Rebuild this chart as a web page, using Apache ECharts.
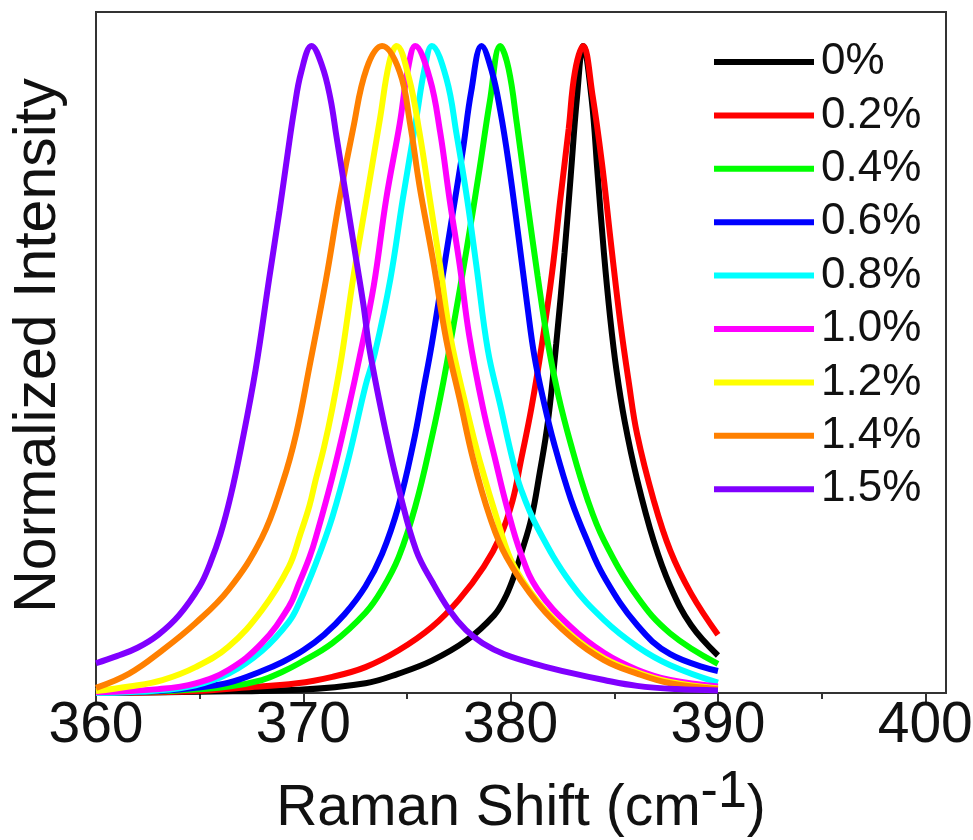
<!DOCTYPE html>
<html>
<head>
<meta charset="utf-8">
<script src="https://cdn.jsdelivr.net/npm/echarts@6/dist/echarts.min.js"></script>
<style>
html,body{margin:0;padding:0;background:#fff;}
#chart{width:973px;height:840px;}
</style>
</head>
<body>
<div id="chart"></div>
<script>
const seriesNames = ['0%', '0.2%', '0.4%', '0.6%', '0.8%', '1.0%', '1.2%', '1.4%', '1.5%'];
const seriesColors = ['#000000', '#ff0000', '#00ff00', '#0000ff', '#00ffff', '#ff00ff', '#ffff00', '#ff8000', '#8000ff'];
const majorTicks = [360, 370, 380, 390, 400];
const minorTicks = [365, 375, 385, 395];

const s0 = [[360,0],[365,0.002],[369.8,0.005],[373,0.015],[374.6,0.03],[376.2,0.05],[377.9,0.082],[379.2,0.12],[379.7,0.145],[380.1,0.175],[380.5,0.215],[381,0.27],[381.4,0.34],[381.8,0.42],[382.2,0.54],[382.6,0.68],[382.9,0.8],[383.2,0.92],[383.5,1.0],[383.9,0.92],[384.2,0.8],[384.5,0.68],[384.8,0.58],[385.1,0.5],[385.5,0.42],[386.1,0.33],[386.9,0.235],[387.7,0.165],[388.7,0.105],[390,0.058]];
const s1 = [[360,0],[363,0.001],[364.8,0.003],[367,0.008],[369.7,0.015],[371.4,0.025],[373,0.04],[374.6,0.066],[376.2,0.102],[377.5,0.144],[378.7,0.195],[379.5,0.242],[380.1,0.298],[380.5,0.36],[381,0.44],[381.5,0.537],[382,0.65],[382.4,0.764],[382.8,0.872],[383.1,0.96],[383.5,1.0],[383.95,0.924],[384.4,0.82],[384.85,0.692],[385.3,0.57],[385.7,0.48],[386.1,0.4],[386.9,0.298],[387.7,0.22],[388.7,0.154],[390,0.09]];
const s2 = [[360,0],[364,0.004],[366.4,0.01],[368,0.02],[369,0.033],[369.8,0.046],[371.4,0.077],[373,0.124],[373.8,0.16],[374.6,0.21],[375.4,0.288],[376.2,0.395],[376.75,0.48],[377.2,0.56],[377.9,0.69],[378.5,0.81],[379,0.915],[379.5,1.0],[379.9,0.965],[380.3,0.88],[380.8,0.76],[381.3,0.645],[381.8,0.54],[382.3,0.46],[382.9,0.385],[383.7,0.3],[384.5,0.236],[386.1,0.149],[387.7,0.092],[390,0.045]];
const s3 = [[360,0],[363,0.003],[364.8,0.008],[366.4,0.016],[368,0.034],[369,0.048],[370,0.066],[371,0.09],[372,0.122],[373,0.165],[373.8,0.215],[374.6,0.29],[375.3,0.385],[375.8,0.47],[376.2,0.54],[376.7,0.64],[377.2,0.74],[377.7,0.84],[378.1,0.93],[378.6,1.0],[379.1,0.96],[379.5,0.9],[379.9,0.82],[380.4,0.7],[380.8,0.6],[381.15,0.52],[381.6,0.45],[382.1,0.385],[382.9,0.3],[383.7,0.235],[384.5,0.18],[386.1,0.105],[387.7,0.06],[390,0.034]];
const s4 = [[360,0],[363,0.004],[364.8,0.012],[366.4,0.03],[368,0.065],[369.3,0.11],[369.8,0.139],[370.6,0.2],[371.4,0.272],[372.2,0.365],[373,0.475],[373.45,0.525],[374.2,0.64],[374.8,0.764],[375.45,0.888],[375.85,0.965],[376.2,1.0],[376.9,0.95],[377.4,0.862],[377.9,0.764],[378.35,0.66],[378.9,0.53],[379.5,0.445],[380.1,0.36],[380.5,0.315],[381.3,0.255],[382.9,0.17],[384.5,0.113],[386.1,0.072],[387.7,0.043],[390,0.016]];
const s5 = [[360,0.001],[363,0.006],[364.8,0.015],[366.4,0.036],[368,0.077],[369.3,0.133],[369.8,0.17],[370.3,0.21],[370.6,0.24],[371.4,0.334],[372.2,0.443],[372.7,0.517],[373.4,0.63],[374,0.764],[374.65,0.88],[375.05,0.965],[375.4,1.0],[376.1,0.95],[376.6,0.867],[377.05,0.764],[377.55,0.66],[378,0.553],[378.65,0.443],[379.3,0.355],[379.8,0.29],[380.5,0.215],[381.3,0.16],[382.9,0.102],[384.5,0.062],[386.1,0.036],[387.7,0.02],[390,0.01]];
const s6 = [[360,0.003],[361.6,0.01],[363.2,0.02],[364.8,0.04],[366.4,0.072],[368,0.128],[369.3,0.195],[369.85,0.245],[370.3,0.29],[370.6,0.33],[371,0.38],[371.4,0.44],[371.85,0.52],[372.4,0.64],[373.05,0.764],[373.7,0.888],[374.15,0.975],[374.5,1.0],[375.1,0.95],[375.6,0.867],[376.1,0.764],[376.6,0.66],[377.1,0.55],[377.85,0.443],[378.5,0.36],[379.45,0.258],[380.1,0.2],[381.3,0.142],[382.9,0.09],[384.5,0.054],[386.1,0.032],[387.7,0.017],[390,0.007]];
const s7 = [[360,0.008],[361.6,0.03],[363.2,0.066],[364.8,0.108],[366.4,0.16],[368,0.24],[369,0.325],[369.65,0.4],[370.3,0.505],[371.1,0.64],[371.75,0.764],[372.4,0.872],[373.05,0.965],[373.8,1.0],[374.65,0.96],[375.15,0.88],[375.6,0.785],[376.25,0.67],[376.9,0.545],[377.55,0.453],[378.2,0.36],[379,0.272],[379.8,0.21],[381.3,0.139],[382.9,0.087],[384.5,0.051],[386.1,0.03],[387.7,0.015],[390,0.006]];
const s8 = [[360,0.046],[361,0.057],[362,0.07],[363,0.09],[364,0.12],[365,0.165],[365.5,0.2],[366,0.245],[366.5,0.305],[367,0.38],[367.7,0.5],[368.35,0.64],[368.85,0.745],[369.25,0.835],[369.55,0.9],[369.9,0.96],[370.4,1.0],[370.9,0.97],[371.3,0.92],[371.6,0.86],[371.9,0.8],[372.25,0.73],[372.55,0.67],[372.9,0.6],[373.2,0.53],[374,0.4],[374.65,0.31],[375.45,0.22],[376.25,0.17],[377.05,0.128],[377.85,0.097],[378.65,0.077],[379.7,0.06],[381.3,0.044],[382.9,0.031],[384.5,0.02],[386.1,0.011],[388,0.006],[390,0.004]];

const allData = [s0, s1, s2, s3, s4, s5, s6, s7, s8];
const FONT = "'Liberation Sans', Arial, sans-serif";

const chart = echarts.init(document.getElementById('chart'), null, {renderer: 'canvas'});
const option = {
  backgroundColor: '#ffffff',
  animation: false,
  grid: {left: 96, right: 27, top: 12, bottom: 147, show: true, borderColor: '#333', borderWidth: 2, backgroundColor: 'transparent', containLabel: false, outerBoundsMode: 'none'},
  legend: {
    orient: 'vertical', left: 709, top: 35,
    itemWidth: 100, itemHeight: 6, itemGap: 9.4,
    icon: 'rect',
    data: seriesNames,
    textStyle: {fontSize: 44, lineHeight: 44, color: '#111', fontFamily: FONT, padding: [0, 0, 0, 2]}
  },
  xAxis: [{
    type: 'value', min: 360, max: 401,
    axisLine: {show: true, lineStyle: {color: '#333', width: 2}},
    axisTick: {show: true, inside: false, length: 12, customValues: majorTicks, lineStyle: {color: '#333', width: 2}},
    axisLabel: {show: true, customValues: majorTicks, fontSize: 57, color: '#111', fontFamily: FONT, margin: 5},
    splitLine: {show: false},
    name: 'Raman Shift (cm{sup|-1}{a|)}',
    nameLocation: 'middle', nameGap: 74,
    nameTextStyle: {
      fontSize: 57, color: '#111', fontFamily: FONT, lineHeight: 84,
      rich: {
        sup: {fontSize: 52, lineHeight: 56, verticalAlign: 'top', color: '#111', fontFamily: FONT},
        a: {fontSize: 57, lineHeight: 84, color: '#111', fontFamily: FONT}
      }
    }
  }, {
    type: 'value', min: 360, max: 401, gridIndex: 0, position: 'bottom',
    axisLine: {show: false},
    axisTick: {show: true, inside: false, length: 6, customValues: minorTicks, lineStyle: {color: '#333', width: 2}},
    axisLabel: {show: false},
    splitLine: {show: false}
  }],
  yAxis: {
    type: 'value', min: 0, max: 1.0526,
    axisLine: {show: true, lineStyle: {color: '#333', width: 2}},
    axisTick: {show: false},
    axisLabel: {show: false},
    splitLine: {show: false},
    name: 'Normalized Intensity',
    nameLocation: 'middle', nameGap: 28,
    nameTextStyle: {fontSize: 59, color: '#111', fontFamily: FONT, padding: [0, 0, 0, 14]}
  },
  series: seriesNames.map((name, i) => ({
    name: name,
    type: 'line',
    xAxisIndex: 0,
    data: allData[i],
    showSymbol: false,
    symbol: 'none',
    smooth: 0.4,
    color: seriesColors[i],
    lineStyle: {width: 6, color: seriesColors[i]},
    itemStyle: {color: seriesColors[i]},
    z: 2 + i
  }))
};
chart.setOption(option);
</script>
</body>
</html>
